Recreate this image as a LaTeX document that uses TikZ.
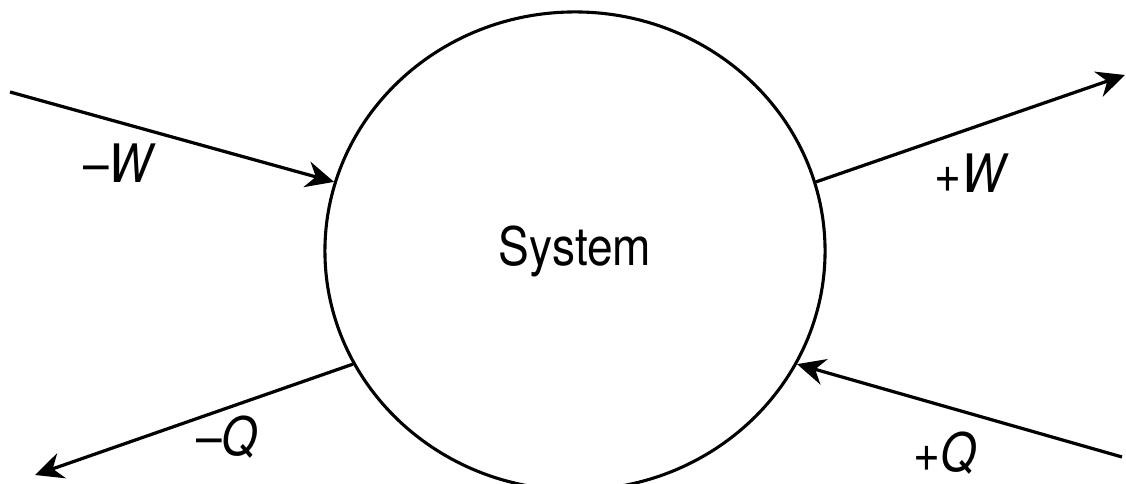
\documentclass[tikz,border=0pt]{standalone}
\usepackage{fontspec}
\newfontfamily\lblfont[FakeStretch=0.87]{TeX Gyre Heros}
\usetikzlibrary{shapes.geometric,arrows.meta}
\begin{document}
\begin{tikzpicture}[x=0.025cm,y=-0.025cm,
  every node/.style={font=\lblfont\fontsize{37.7}{40}\selectfont},
  flow/.style={line width=2.3pt,-{Stealth[length=7mm,width=6.6mm,inset=2.3mm]}}]
 \clip (0,0) rectangle (1126,484);
 \node[draw,ellipse,line width=2.2pt,minimum width=12.5cm,minimum height=11.95cm,
  inner sep=0pt] (sys) at (575,251) {};
 \node[anchor=base] (name) at (575,266) {System};
 \coordinate (w1) at (10,92);
 \coordinate (w2) at (1125,75);
 \coordinate (q1) at (35,475);
 \coordinate (q2) at (1122,457);
 \draw[flow] (w1) -- (sys.164);
 \draw[flow] (sys.16) -- (w2);
 \draw[flow] (sys.207.6) -- (q1);
 \draw[flow] (q2) -- (sys.333);
 \node[anchor=base] (lw1) at (120,183) {–\textit{W}};
 \node[anchor=base] (lw2) at (972,193) {+\textit{W}};
 \node[anchor=base] (lq1) at (227,456) {–\textit{Q}};
 \node[anchor=base] (lq2) at (945,472) {+\textit{Q}};
\end{tikzpicture}
\end{document}
